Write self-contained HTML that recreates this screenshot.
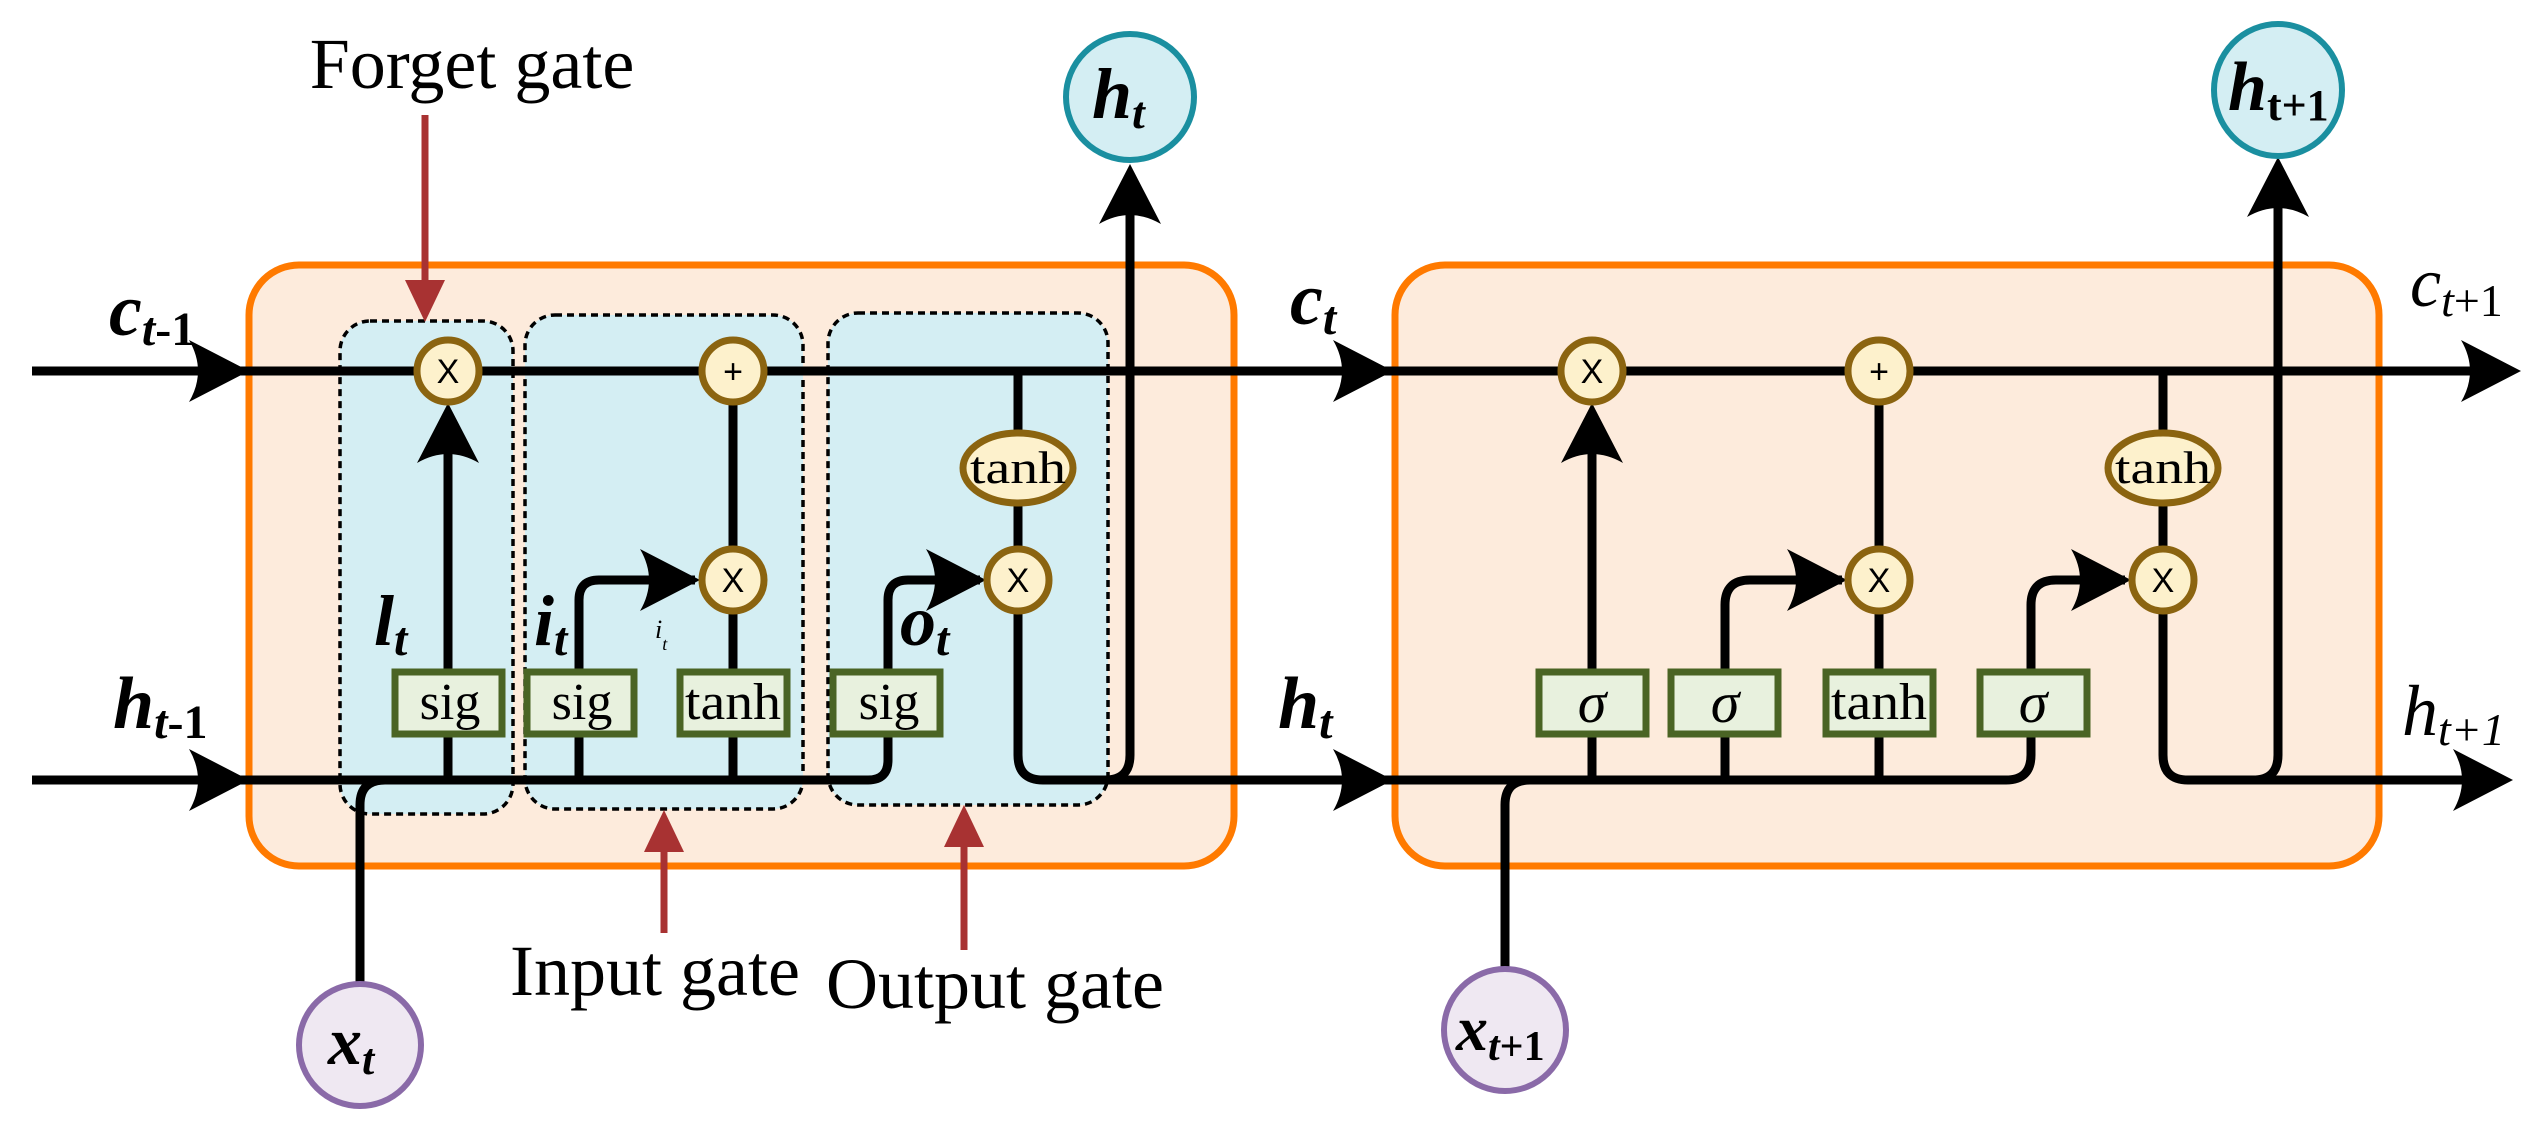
<!DOCTYPE html>
<html><head><meta charset="utf-8"><style>
html,body{margin:0;padding:0;background:#fff;}
svg{display:block;}
text{font-family:"Liberation Serif",serif;}
.sans{font-family:"Liberation Sans",sans-serif;}
</style></head><body>
<svg width="2537" height="1130" viewBox="0 0 2537 1130" xmlns="http://www.w3.org/2000/svg">
<defs>
<path id="ar" d="M0 0 L-60 -31 Q-42 0 -60 31 Z" fill="#000"/>
<path id="au" d="M0 0 L-31 60 Q0 42 31 60 Z" fill="#000"/>
<path id="ru" d="M0 0 L-20 42 L20 42 Z" fill="#a83232"/>
<path id="rd" d="M0 0 L-20 -42 L20 -42 Z" fill="#a83232"/>
</defs>
<rect x="249" y="265" width="985" height="601" rx="50" fill="#fdebdc" stroke="#ff7a00" stroke-width="7"/>
<rect x="1395" y="265" width="984" height="601" rx="50" fill="#fdebdc" stroke="#ff7a00" stroke-width="7"/>
<g fill="#d4eef3" stroke="#000" stroke-width="3.5" stroke-dasharray="7,5">
<rect x="340" y="321" width="173" height="493" rx="30"/>
<rect x="525" y="315" width="278" height="494" rx="30"/>
<rect x="828" y="313" width="280" height="492" rx="30"/>
</g>
<g fill="none" stroke="#000" stroke-width="9" stroke-linejoin="round">
<path d="M32 371 H2500"/>
<path d="M32 780 H868 Q888 780 888 760 V600 Q888 580 908 580 H980"/>
<path d="M579 780 V600 Q579 580 599 580 H695"/>
<path d="M448 780 V420"/>
<path d="M733 780 V371"/>
<path d="M1018 371 V755 Q1018 780 1043 780 H1105 Q1130 780 1130 755 V180"/>
<path d="M1043 780 H1390"/>
<path d="M360 983 V805 Q360 780 385 780 H448"/>
<path d="M1236 780 H2006 Q2031 780 2031 755 V605 Q2031 580 2056 580 H2125"/>
<path d="M1725 780 V605 Q1725 580 1750 580 H1842"/>
<path d="M1592 780 V420"/>
<path d="M1879 780 V371"/>
<path d="M2163 371 V755 Q2163 780 2188 780 H2253 Q2278 780 2278 755 V175"/>
<path d="M2188 780 H2500"/>
<path d="M1505 969 V805 Q1505 780 1530 780 H1592"/>
</g>
<use href="#ar" x="249" y="371"/><use href="#ar" x="249" y="780"/>
<use href="#ar" x="1393" y="371"/><use href="#ar" x="1393" y="780"/>
<use href="#ar" x="2521" y="371"/><use href="#ar" x="2513" y="780"/>
<use href="#ar" x="986" y="580"/><use href="#ar" x="700" y="580"/>
<use href="#ar" x="2131" y="580"/><use href="#ar" x="1847" y="580"/>
<use href="#au" x="448" y="403"/><use href="#au" x="1592" y="403"/>
<use href="#au" x="1130" y="164"/><use href="#au" x="2278" y="157"/>
<g stroke="#a83232" stroke-width="7"><path d="M425 115 V290"/><path d="M664 933 V845"/><path d="M964 950 V840"/></g>
<use href="#rd" x="425" y="322"/><use href="#ru" x="664" y="810"/><use href="#ru" x="964" y="805"/>
<g fill="#fdf1cc" stroke="#8b6410" stroke-width="7">
<circle cx="448" cy="371" r="31"/><circle cx="733" cy="371" r="31"/><circle cx="733" cy="580" r="31"/><circle cx="1018" cy="580" r="31"/>
<ellipse cx="1018" cy="468" rx="55" ry="35"/>
<circle cx="1592" cy="371" r="31"/><circle cx="1879" cy="371" r="31"/><circle cx="1879" cy="580" r="31"/><circle cx="2163" cy="580" r="31"/>
<ellipse cx="2163" cy="468" rx="55" ry="35"/>
</g>
<g class="sans" font-size="34" text-anchor="middle">
<text x="448" y="383" class="sans">X</text><text x="733" y="383" class="sans">+</text><text x="733" y="592" class="sans">X</text><text x="1018" y="592" class="sans">X</text>
<text x="1592" y="383" class="sans">X</text><text x="1879" y="383" class="sans">+</text><text x="1879" y="592" class="sans">X</text><text x="2163" y="592" class="sans">X</text>
</g>
<g font-size="46" text-anchor="middle"><text x="1018" y="483" textLength="96" lengthAdjust="spacingAndGlyphs">tanh</text><text x="2163" y="483" textLength="96" lengthAdjust="spacingAndGlyphs">tanh</text></g>
<g fill="#e8f1de" stroke="#4a6424" stroke-width="7">
<rect x="395" y="672" width="107" height="62"/><rect x="527" y="672" width="107" height="62"/><rect x="680" y="672" width="107" height="62"/><rect x="833" y="672" width="107" height="62"/>
<rect x="1539" y="672" width="107" height="62"/><rect x="1671" y="672" width="107" height="62"/><rect x="1826" y="672" width="107" height="62"/><rect x="1980" y="672" width="107" height="62"/>
</g>
<g font-size="52" text-anchor="middle">
<text x="450" y="719">sig</text><text x="582" y="719">sig</text><text x="733" y="719" textLength="96" lengthAdjust="spacingAndGlyphs">tanh</text><text x="889" y="719">sig</text>
<text x="1879" y="719" textLength="96" lengthAdjust="spacingAndGlyphs">tanh</text>
</g>
<g font-size="58" font-style="italic" text-anchor="middle">
<text x="1592" y="722">σ</text><text x="1725" y="722">σ</text><text x="2033" y="722">σ</text>
</g>
<ellipse cx="1130" cy="97" rx="64" ry="63" fill="#d4eef3" stroke="#1a8fa0" stroke-width="6"/>
<ellipse cx="2278" cy="90" rx="64" ry="66" fill="#d4eef3" stroke="#1a8fa0" stroke-width="6"/>
<ellipse cx="360" cy="1045" rx="61" ry="61" fill="#efe8f2" stroke="#8a6aa8" stroke-width="6"/>
<ellipse cx="1505" cy="1030" rx="61" ry="61" fill="#efe8f2" stroke="#8a6aa8" stroke-width="6"/>
<g font-weight="bold" font-style="italic">
<text x="1092" y="118" font-size="72">h<tspan font-size="46" dy="10">t</tspan></text>
<text x="2228" y="110" font-size="70">h<tspan font-size="44" dy="10" font-style="normal">t</tspan><tspan font-size="44" font-style="normal">+1</tspan></text>
<text x="328" y="1064" font-size="68">x<tspan font-size="44" dy="10">t</tspan></text>
<text x="1456" y="1050" font-size="64">x<tspan font-size="42" dy="10">t</tspan><tspan font-size="42" font-style="normal">+1</tspan></text>
<text x="109" y="335" font-size="74">c<tspan font-size="48" dy="10">t</tspan><tspan font-size="48" font-style="normal">-1</tspan></text>
<text x="113" y="728" font-size="74">h<tspan font-size="48" dy="10">t</tspan><tspan font-size="48" font-style="normal">-1</tspan></text>
<text x="1290" y="324" font-size="74">c<tspan font-size="48" dy="10">t</tspan></text>
<text x="1278" y="728" font-size="74">h<tspan font-size="48" dy="10">t</tspan></text>
<text x="374" y="645" font-size="72">l<tspan font-size="48" dy="10">t</tspan></text>
<text x="534" y="645" font-size="72">i<tspan font-size="48" dy="10">t</tspan></text>
<text x="900" y="645" font-size="72">o<tspan font-size="48" dy="10">t</tspan></text>
</g>
<g font-style="italic">
<text x="2410" y="306" font-size="70">c<tspan font-size="46" dy="10">t</tspan><tspan font-size="46" font-style="normal">+1</tspan></text>
<text x="2402" y="735" font-size="72">h<tspan font-size="46" dy="10">t+1</tspan></text>
<text x="655" y="638" font-size="26">i<tspan font-size="18" dy="12">t</tspan></text>
</g>
<g font-size="72" text-anchor="middle">
<text x="472" y="88">Forget gate</text>
<text x="655" y="995">Input gate</text>
<text x="995" y="1008">Output gate</text>
</g>
</svg>
</body></html>
